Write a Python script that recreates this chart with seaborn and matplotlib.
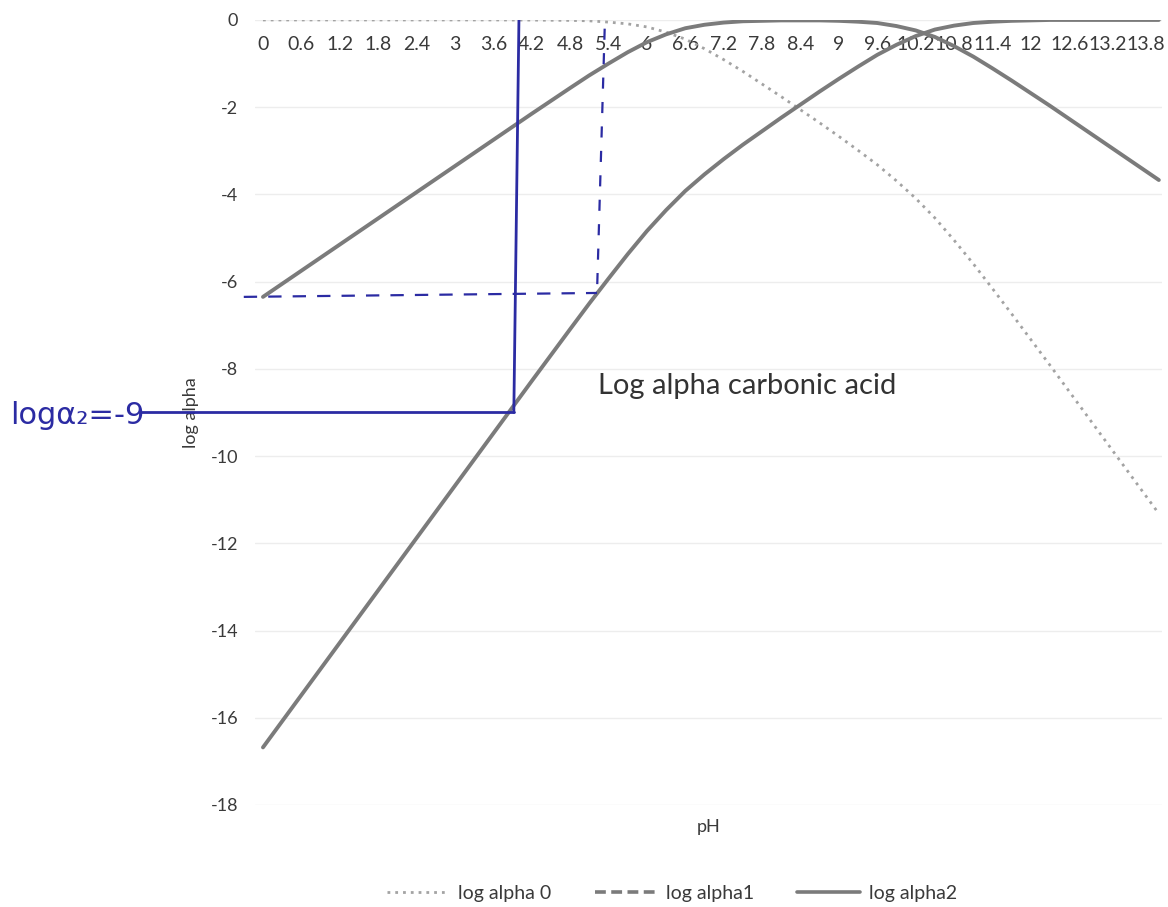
import matplotlib
matplotlib.use("Agg")
import matplotlib.pyplot as plt
from matplotlib.lines import Line2D
import seaborn as sns
import pandas as pd

# ---- data ----
ph = [0, 0.6, 1.2, 1.8, 2.4, 3.0, 3.6, 4.2, 4.8, 5.1, 5.4, 5.7, 6.0, 6.3,
      6.6, 6.9, 7.2, 7.5, 7.8, 8.1, 8.4, 8.7, 9.0, 9.3, 9.6, 9.9, 10.2, 10.5,
      10.8, 11.1, 11.4, 11.7, 12.0, 12.3, 12.6, 13.2, 13.8, 14.0]
log_alpha0 = [0, 0, 0, 0, 0, 0, 0, -0.003, -0.01, -0.02, -0.05, -0.09, -0.16,
              -0.28, -0.44, -0.66, -0.91, -1.18, -1.47, -1.76, -2.06, -2.36,
              -2.67, -2.99, -3.32, -3.69, -4.09, -4.54, -5.05, -5.59, -6.16,
              -6.74, -7.33, -7.92, -8.52, -9.72, -10.92, -11.32]
log_alpha1 = [-6.35, -5.75, -5.15, -4.55, -3.95, -3.35, -2.75, -2.15, -1.56,
              -1.27, -1.00, -0.74, -0.51, -0.33, -0.19, -0.11, -0.06, -0.03,
              -0.02, -0.01, -0.01, -0.01, -0.02, -0.04, -0.07, -0.14, -0.24,
              -0.39, -0.60, -0.84, -1.11, -1.39, -1.68, -1.97, -2.27, -2.87,
              -3.47, -3.67]
log_alpha2 = [-16.68, -15.48, -14.28, -13.08, -11.88, -10.68, -9.48, -8.28,
              -7.09, -6.50, -5.93, -5.37, -4.84, -4.36, -3.92, -3.54, -3.19,
              -2.86, -2.55, -2.24, -1.94, -1.64, -1.35, -1.07, -0.80, -0.57,
              -0.37, -0.22, -0.13, -0.07, -0.04, -0.02, -0.01, 0.00, 0.00,
              0.00, 0.00, 0.00]
x_tick_labels = ["0", "0.6", "1.2", "1.8", "2.4", "3", "3.6", "4.2", "4.8",
                 "5.4", "6", "6.6", "7.2", "7.8", "8.4", "9", "9.6", "10.2",
                 "10.8", "11.4", "12", "12.6", "13.2", "13.8"]
y_ticks = [0, -2, -4, -6, -8, -10, -12, -14, -16, -18]
series_names = ["log alpha 0", "log alpha1", "log alpha2"]

# handwritten annotations (pH, log alpha)
ann_solid_v = ([4.0, 3.92], [0.0, -9.0])
ann_solid_h = ([-1.9, 3.92], [-9.0, -9.0])
ann_dash_v = ([5.34, 5.22], [-0.2, -6.26])
ann_dash_h = ([-0.3, 5.22], [-6.35, -6.26])

df = pd.DataFrame({"pH": ph, "a0": log_alpha0, "a1": log_alpha1, "a2": log_alpha2})

sns.set_theme(style="white")
plt.rcParams["font.family"] = ["Lato", "DejaVu Sans"]

fig = plt.figure(figsize=(11.68, 9.07), dpi=100)
ax = fig.add_axes([0.2183, 0.1125, 0.7766, 0.8655])

grey = "#7b7b7b"
sns.lineplot(data=df, x="pH", y="a0", ax=ax, color="#a3a3a3", lw=2.0,
             linestyle=(0, (1, 1.8)), legend=False)
sns.lineplot(data=df, x="pH", y="a1", ax=ax, color=grey, lw=2.8, legend=False)
sns.lineplot(data=df, x="pH", y="a2", ax=ax, color=grey, lw=2.8, legend=False)

ax.set_xlim(-0.125, 14.05)
ax.set_ylim(-18, 0)
ax.set_yticks(y_ticks)
ax.set_yticklabels([str(v) for v in y_ticks])
ax.set_xticks([float(s) for s in x_tick_labels])
ax.set_xticklabels(x_tick_labels)
ax.tick_params(axis="x", top=True, bottom=False, labeltop=True,
               labelbottom=False, length=0, pad=-24, labelsize=14,
               labelcolor="#3a3a3a")
ax.tick_params(axis="y", length=0, pad=12, labelsize=13, labelcolor="#3a3a3a")
for s in ax.spines.values():
    s.set_visible(False)
ax.grid(axis="y", color="#ededed", lw=1)
ax.grid(axis="x", visible=False)

ax.set_xlabel("pH", fontsize=13, color="#3a3a3a")
ax.xaxis.set_label_position("bottom")
ax.xaxis.set_label_coords(0.5, -0.018)
ax.set_ylabel("log alpha", fontsize=13, color="#3a3a3a")
ax.yaxis.set_label_coords(-0.062, 0.5)

ax.text(7.56, -8.4, "Log alpha carbonic acid", fontsize=21, color="#333333",
        ha="center", va="center")

# blue handwritten marks
blue = "#2b2ba3"
ax.plot(*ann_solid_v, color=blue, lw=2.0)
ax.plot(*ann_solid_h, color=blue, lw=2.0, clip_on=False)
ax.plot(*ann_dash_v, color=blue, lw=1.6, linestyle=(0, (5, 6)))
ax.plot(*ann_dash_h, color=blue, lw=1.6, linestyle=(0, (6, 5)), clip_on=False)
fig.text(10 / 1168, 1 - 415 / 907, "logα₂=-9", fontsize=22, color=blue,
         ha="left", va="center", family=["DejaVu Sans"])

handles = [
    Line2D([], [], color="#a3a3a3", lw=2.0, linestyle=(0, (1, 1.8))),
    Line2D([], [], color=grey, lw=2.6, linestyle=(0, (3, 1.5))),
    Line2D([], [], color=grey, lw=2.6),
]
fig.legend(handles, series_names, loc="center", ncol=3, frameon=False,
           bbox_to_anchor=(672 / 1168, 1 - 893 / 907), fontsize=14,
           handlelength=3.2, handletextpad=0.5, columnspacing=2.2,
           labelcolor="#3a3a3a")

fig.savefig("out.png", dpi=100)
